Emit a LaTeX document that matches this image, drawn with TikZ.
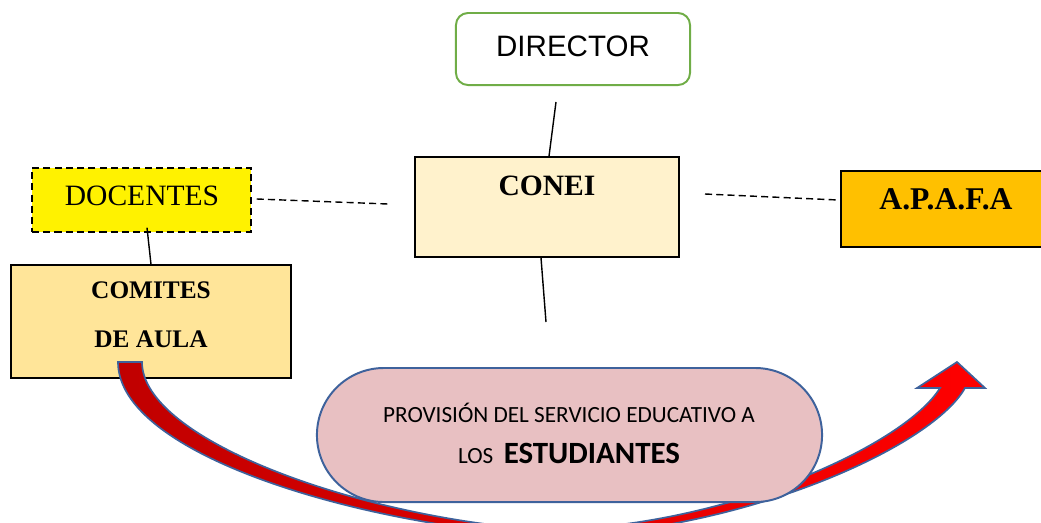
\documentclass[tikz,border=0pt]{standalone}
\usepackage{fontspec}
\setmainfont{Liberation Serif}
\newfontfamily\arialfont{Liberation Sans}
\newfontfamily\calibrifont{Carlito}
\usepackage{tikz}
\definecolor{directorgreen}{HTML}{70AD47}
\definecolor{coneifill}{HTML}{FFF2CC}
\definecolor{comitesfill}{HTML}{FFE599}
\definecolor{apafafill}{HTML}{FFC000}
\definecolor{servfill}{RGB}{232,192,194}
\definecolor{servblue}{RGB}{62,98,156}
\definecolor{arrowdark}{HTML}{C00000}
\definecolor{arrowred}{HTML}{FF0000}

\begin{document}
\begin{tikzpicture}[x=0.025cm, y=-0.025cm,
    box/.style={draw, line width=1pt, inner sep=0pt},
    conn/.style={line width=1pt},
    dashconn/.style={line width=1pt, dash pattern=on 5pt off 3pt}]
  \useasboundingbox (0,0) rectangle (1041,522);
  \clip (0,0) rectangle (1041,522);

  % director
  \node[box, draw=directorgreen, line width=1.4pt, rounded corners=0.3cm,
        minimum width=5.85cm, minimum height=1.8cm] (director) at (573,49) {};
  \node[font=\arialfont\fontsize{21}{25}\selectfont] (director text) at (573,46) {DIRECTOR};

  % conei
  \node[box, fill=coneifill, minimum width=6.6cm, minimum height=2.5cm] (conei) at (547,207) {};
  \node[font=\bfseries\fontsize{21}{25}\selectfont] (conei text) at (547,186) {CONEI};

  % docentes
  \node[box, fill=yellow, dash pattern=on 5pt off 3pt, minimum width=5.475cm,
        minimum height=1.6cm] (docentes) at (141.5,200) {};
  \node[font=\fontsize{21}{25}\selectfont] (docentes text) at (142,196) {DOCENTES};

  % comites de aula
  \node[box, fill=comitesfill, minimum width=7cm, minimum height=2.825cm] (comites) at (151,321.5) {};
  \node[font=\bfseries\fontsize{18}{22}\selectfont] (comites text) at (151,290) {COMITES};
  \node[font=\bfseries\fontsize{18}{22}\selectfont] (aula text) at (151,339) {DE AULA};

  % apafa
  \node[box, fill=apafafill, minimum width=5.2cm, minimum height=1.9cm] (apafa) at (945,209) {};
  \node[font=\bfseries\fontsize{22.5}{26}\selectfont] (apafa text) at (946,199) {A.P.A.F.A};

  % connectors
  \draw[conn] ([shift={(-17,16)}]director.south) -- ([shift={(2,0)}]conei.north);
  \coordinate (conei end) at (546,322);
  \draw[conn] ([shift={(-6,0)}]conei.south) -- (conei end);
  \draw[conn] ([shift={(5.5,-5)}]docentes.south) -- (comites.north);
  \coordinate (doc end) at (388,204);
  \draw[dashconn] ([shift={(5,-1)}]docentes.east) -- (doc end);
  \coordinate (apafa start) at (705,194);
  \draw[dashconn] (apafa start) -- ([shift={(-2,-9)}]apafa.west);

  % curved arrow
  \shadedraw[left color=arrowdark, right color=arrowred, draw=servblue, line width=1.2pt]
    (118,362) -- (142,362)
    .. controls (142,440) and (360,518) .. (545,530)
    .. controls (725,528) and (905,445) .. (940,388)
    -- (917,388) -- (957,362) -- (985,388) -- (965,388)
    .. controls (930,450) and (730,536) .. (545,536)
    .. controls (360,525) and (118,455) .. (118,362) -- cycle;

  % servicio
  \node[draw=servblue, line width=1.4pt, fill=servfill, rounded corners=1.675cm,
        minimum width=12.625cm, minimum height=3.35cm] (servicio) at (569.5,435) {};
  \node[font=\calibrifont\fontsize{16.5}{20}\selectfont] (serv line1) at (569,413)
    {PROVISIÓN DEL SERVICIO EDUCATIVO A};
  \node[font=\calibrifont\fontsize{16.5}{20}\selectfont] (serv line2) at (569,453)
    {LOS\ \ {\bfseries\fontsize{22}{26}\selectfont ESTUDIANTES}};
\end{tikzpicture}
\end{document}
